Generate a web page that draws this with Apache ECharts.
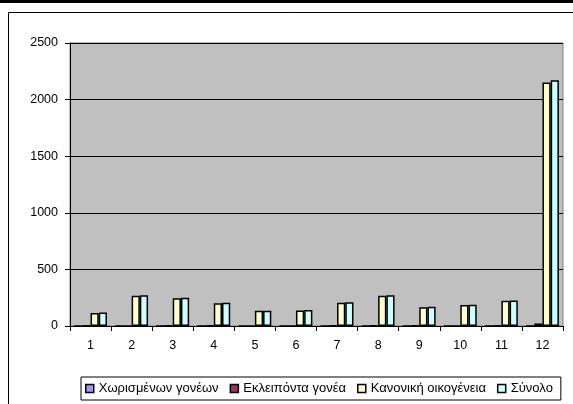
<!DOCTYPE html>
<html>
<head>
<meta charset="utf-8">
<script src="https://cdn.jsdelivr.net/npm/echarts@6/dist/echarts.min.js"></script>
<style>
html,body{margin:0;padding:0;background:#fff;}
#c{width:573px;height:404px;}
</style>
</head>
<body>
<div id="c"></div>
<script>
var categories = ['1','2','3','4','5','6','7','8','9','10','11','12'];
var separatedParents = [0,0,0,0,0,0,0,0,0,0,0,0];
var lostParent = [5,0,3,4,0,0,5,5,4,0,6,22];
var normalFamily = [115,268,245,200,135,138,205,268,165,185,222,2150];
var totalValues = [120,272,250,205,135,141,209,272,170,188,226,2172];
var yTicks = [0,500,1000,1500,2000,2500];

var names = ['Χωρισμένων γονέων','Εκλειπόντα γονέα','Κανονική οικογένεια','Σύνολο'];
var colors = ['#9999FF','#993366','#FFFFCC','#CCFFFF'];
var seriesData = [separatedParents, lostParent, normalFamily, totalValues];
var font = 'Liberation Sans, Arial, sans-serif';

var chart = echarts.init(document.getElementById('c'), null, {renderer:'canvas'});
chart.setOption({
  animation:false,
  textStyle:{fontFamily:font},
  graphic:[
    {type:'rect', shape:{x:0,y:0,width:573,height:3}, style:{fill:'#000'}, z:100},
    {type:'line', shape:{x1:8.5,y1:12.5,x2:573,y2:12.5}, style:{stroke:'#000',lineWidth:1}, z:100},
    {type:'line', shape:{x1:8.5,y1:12.5,x2:8.5,y2:404}, style:{stroke:'#000',lineWidth:1}, z:100}
  ],
  grid:{left:70, top:43, right:10, bottom:78, show:true, backgroundColor:'#C0C0C0', borderColor:'#808080', borderWidth:1},
  legend:{
    data:names.map(function(n,i){return {name:n, icon:'rect', itemStyle:{color:colors[i], borderColor:'#000', borderWidth:1.5}};}),
    left:81, top:377, width:540, orient:'horizontal',
    itemWidth:8, itemHeight:8, itemGap:11,
    padding:[5,8,5,4],
    borderColor:'#000', borderWidth:1,
    textStyle:{fontFamily:font, fontSize:13, color:'#000'}
  },
  xAxis:{
    type:'category', data:categories,
    axisLine:{lineStyle:{color:'#000',width:1}},
    axisTick:{show:true, length:5, lineStyle:{color:'#000'}},
    axisLabel:{color:'#000', fontSize:12.5, margin:13, fontFamily:font}
  },
  yAxis:{
    type:'value', min:0, max:2500, interval:500,
    axisLine:{show:true, lineStyle:{color:'#000',width:1}},
    axisTick:{show:true, length:5, lineStyle:{color:'#000'}},
    axisLabel:{color:'#000', fontSize:12.5, margin:12, fontFamily:font, formatter:function(v){return String(v);}},
    splitLine:{show:true, lineStyle:{color:'#000', width:1}}
  },
  series:seriesData.map(function(d,i){
    return {
      name:names[i], type:'bar', data:d,
      barGap:'0%', barCategoryGap:'20%',
      itemStyle:{color:colors[i], borderColor:'#000', borderWidth:1.5}
    };
  })
});
</script>
</body>
</html>
